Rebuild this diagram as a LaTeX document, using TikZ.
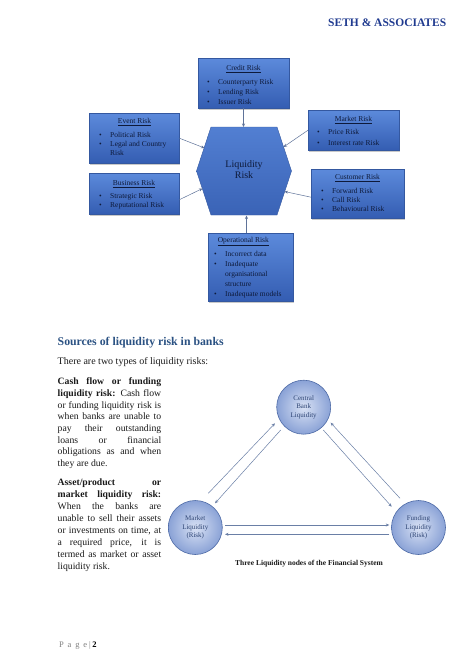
\documentclass[tikz,border=0pt]{standalone}
\usepackage{fontspec}
\setmainfont{Liberation Serif}
\usetikzlibrary{arrows.meta,shadows,calc}
\definecolor{hdr}{HTML}{1F3A8F}
\definecolor{heading}{HTML}{2B5283}
\definecolor{boxtop}{HTML}{5C8ADB}
\definecolor{boxbot}{HTML}{345DB2}
\definecolor{boxline}{HTML}{3458A0}
\definecolor{hexTop}{HTML}{527FD2}
\definecolor{hexBot}{HTML}{3A63B6}
\definecolor{navy}{HTML}{0E1A3A}
\definecolor{conn}{HTML}{5F7399}
\definecolor{conn2}{HTML}{6A7FA6}
\definecolor{cin}{HTML}{D8E1F4}
\definecolor{cout}{HTML}{8AA2D6}
\definecolor{cline}{HTML}{4D6AA6}
\definecolor{ctext}{HTML}{2C4373}
\definecolor{bodytxt}{HTML}{1A1A1A}
\newcommand\bl[1]{\makebox[11pt][l]{\textbullet}#1}
\newcommand\hg[1]{\hspace*{11pt}#1}
\newcommand\J[1]{\makebox[103.5pt][s]{#1}}
\begin{document}
\begin{tikzpicture}[x=1pt,y=-1pt,
  rbox/.style={rectangle, inner sep=0, top color=boxtop, bottom color=boxbot, draw=boxline, line width=0.4pt,
    drop shadow={shadow xshift=1.2pt, shadow yshift=-1.5pt, opacity=0.35, fill=black!60}},
  rtitle/.style={font=\fontsize{7.5}{9}\selectfont, text=navy, anchor=base, inner sep=0},
  blist/.style={font=\fontsize{7.5}{#1}\selectfont, text=navy, align=left, anchor=north west, inner sep=0},
  conn/.style={draw=conn, line width=0.5pt, -{Stealth[length=3.5pt,width=3pt]}},
  larr/.style={draw=conn2, line width=0.5pt, -{Stealth[length=3.5pt,width=3pt]}},
  lcirc/.style={circle, minimum size=54pt, inner sep=0, inner color=cin, outer color=cout, draw=cline,
    line width=0.6pt, font=\fontsize{7}{8.6}\selectfont, text=ctext, align=center},
  ptext/.style={anchor=north west, inner sep=0, align=left, text=bodytxt}
]
\useasboundingbox (0,0) rectangle (474,670);
\fill[white] (0,0) rectangle (474,670);

% header
\node[anchor=base west, inner sep=0, font=\bfseries\fontsize{11.5}{13}\selectfont, text=hdr] (hd) at (328,26.5) {SETH \& ASSOCIATES};

% risk boxes
\node[rbox, anchor=north west, minimum width=91pt, minimum height=50pt] (credit) at (198,58) {};
\node[rbox, anchor=north west, minimum width=90pt, minimum height=50pt] (event) at (89,113) {};
\node[rbox, anchor=north west, minimum width=90pt, minimum height=41pt] (business) at (89,173) {};
\node[rbox, anchor=north west, minimum width=91pt, minimum height=40pt] (market) at (308,110) {};
\node[rbox, anchor=north west, minimum width=93pt, minimum height=49pt] (customer) at (311,169) {};
\node[rbox, anchor=north west, minimum width=85pt, minimum height=68pt] (oper) at (208,233) {};

% hexagon
\shadedraw[top color=hexTop, bottom color=hexBot, draw=boxline, line width=0.4pt]
  (211,127) -- (277,127) -- (291.5,171) -- (277,215) -- (211,215) -- (196.5,171) -- cycle;
\coordinate (hex) at (244,171);
\node[font=\fontsize{10}{11.6}\selectfont, text=navy, align=center, inner sep=0] (liqtxt) at (244,169.5) {Liquidity\\Risk};

% box texts
\node[rtitle] (creditT) at (243.5,70.4) {\underline{Credit Risk}};
\node[blist=10] (creditL) at (207,77.4) {\strut\bl{Counterparty Risk}\\\bl{Lending Risk}\\\bl{Issuer Risk}};

\node[rtitle] (eventT) at (134.5,123.4) {\underline{Event Risk}};
\node[blist=9] (eventL) at (99,131.1) {\strut\bl{Political Risk}\\\bl{Legal and Country}\\\hg{Risk}};

\node[rtitle] (businessT) at (134,185.4) {\underline{Business Risk}};
\node[blist=9] (businessL) at (99,192.1) {\strut\bl{Strategic Risk}\\\bl{Reputational Risk}};

\node[rtitle] (marketT) at (353.5,121.4) {\underline{Market Risk}};
\node[blist=10.5] (marketL) at (317,127) {\strut\bl{Price Risk}\\\bl{Interest rate Risk}};

\node[rtitle] (customerT) at (357.5,179.4) {\underline{Customer Risk}};
\node[blist=9] (customerL) at (321,187.1) {\strut\bl{Forward Risk}\\\bl{Call Risk}\\\bl{Behavioural Risk}};

\node[rtitle] (operT) at (243.3,242.4) {\underline{Operational Risk}};
\node[blist=9.9] (operL) at (214,249.8) {\strut\bl{Incorrect data}\\\bl{Inadequate}\\\hg{organisational}\\\hg{structure}\\\bl{Inadequate models}};

% hexagon connection points
\coordinate (hxN) at (243.5,127);
\coordinate (hxS) at (246.5,215.5);
\coordinate (hxEv) at (204.5,148);
\coordinate (hxBu) at (202.5,188.5);
\coordinate (hxMk) at (283.5,147);
\coordinate (hxCu) at (284.5,191.5);

\draw[conn] (credit.south -| hxN) -- (hxN);
\draw[conn] (oper.north -| hxS) -- (hxS);
\draw[conn] (event.east) -- (hxEv);
\draw[conn] ($(business.east)+(0,6)$) -- (hxBu);
\draw[conn] (market.west) -- (hxMk);
\draw[conn] ($(customer.west)+(0,3.5)$) -- (hxCu);

% text section
\node[anchor=base west, inner sep=0, font=\bfseries\fontsize{11.8}{14}\selectfont, text=heading] (h) at (57.5,345.5) {Sources of liquidity risk in banks};
\node[anchor=base west, inner sep=0, font=\fontsize{10}{12}\selectfont, text=bodytxt] (intro) at (57.5,364.5) {There are two types of liquidity risks:};

\node[ptext, font=\fontsize{9.7}{11.65}\selectfont] (p1) at (57.5,376.5) {%
\strut\J{\textbf{Cash flow or funding}}\\
\J{\textbf{liquidity risk:} Cash flow}\\
\J{or funding liquidity risk is}\\
\J{when banks are unable to}\\
\J{pay their outstanding}\\
\J{loans or financial}\\
\J{obligations as and when}\\
they are due.};

\node[ptext, font=\fontsize{9.7}{11.95}\selectfont] (p2) at (57.5,477.3) {%
\strut\J{\textbf{Asset/product or}}\\
\J{\textbf{market liquidity risk:}}\\
\J{When the banks are}\\
\J{unable to sell their assets}\\
\J{or investments on time, at}\\
\J{a required price, it is}\\
\J{termed as market or asset}\\
liquidity risk.};

% liquidity triangle
\node[lcirc] (cen) at (303.7,407.2) {Central\\Bank\\Liquidity};
\node[lcirc] (mkt) at (195.3,527.5) {Market\\Liquidity\\(Risk)};
\node[lcirc] (fun) at (418.5,527.5) {Funding\\Liquidity\\(Risk)};

\draw[larr] ($(mkt)+(13,-34.2)$) -- ($(cen)+(-28.7,16.1)$);
\draw[larr] ($(cen)+(-23,22.8)$) -- ($(mkt)+(19.7,-24.2)$);
\draw[larr] ($(cen)+(19.6,22.8)$) -- ($(fun)+(-26.8,-20.8)$);
\draw[larr] ($(fun)+(-18.5,-29.2)$) -- ($(cen)+(27,15.5)$);
\draw[larr] ($(mkt)+(29.7,-2.5)$) -- ($(fun)+(-29.2,-2.5)$);
\draw[larr] ($(fun)+(-29.2,6.8)$) -- ($(mkt)+(29.7,6.8)$);

\node[anchor=base, inner sep=0, font=\bfseries\fontsize{7.5}{9}\selectfont, text=bodytxt] (cap) at (309,565) {Three Liquidity nodes of the Financial System};

% footer
\node[anchor=base west, inner sep=0, font=\fontsize{8.5}{10}\selectfont] (ft) at (59,647) {\textcolor{gray}{\makebox[28pt][s]{P a g e}}\hspace{2pt}\textcolor{gray}{|}\hspace{1.5pt}\textbf{2}};
\end{tikzpicture}
\end{document}
